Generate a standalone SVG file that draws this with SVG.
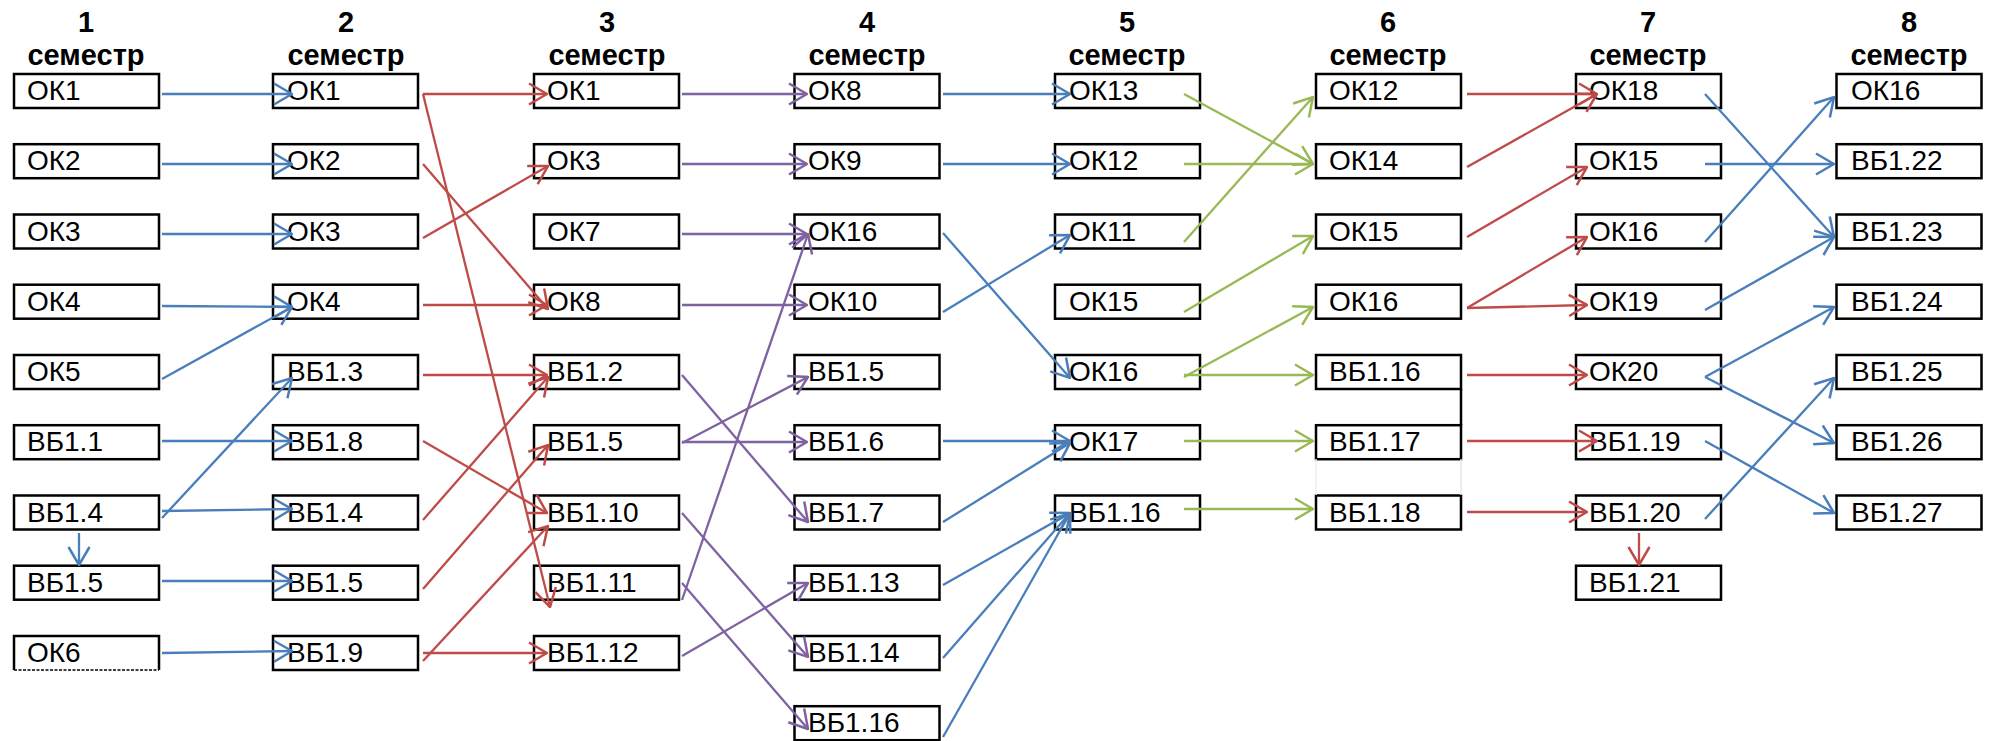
<svg xmlns="http://www.w3.org/2000/svg" width="2000" height="741" viewBox="0 0 2000 741">
<style>
.b{fill:#fff;stroke:#000;stroke-width:2.5}
.t{font-family:"Liberation Sans",Arial,sans-serif;font-size:28px;fill:#000}
.h{font-family:"Liberation Sans",Arial,sans-serif;font-size:29px;font-weight:bold;fill:#000;text-anchor:middle}
.c{fill:none;stroke-width:2.3}
.bl{stroke:#4A7EBB;marker-end:url(#mb)}
.rd{stroke:#BE4B48;marker-end:url(#mr)}
.pu{stroke:#7E62A1;marker-end:url(#mp)}
.gr{stroke:#98B954;marker-end:url(#mg)}
</style>
<defs>
<marker id="mb" viewBox="0 0 20 24" refX="19" refY="12" markerWidth="20" markerHeight="24" markerUnits="userSpaceOnUse" orient="auto"><path d="M1,1.5 L19,12 L1,22.5" fill="none" stroke="#4A7EBB" stroke-width="2.5"/></marker>
<marker id="mr" viewBox="0 0 20 24" refX="19" refY="12" markerWidth="20" markerHeight="24" markerUnits="userSpaceOnUse" orient="auto"><path d="M1,1.5 L19,12 L1,22.5" fill="none" stroke="#BE4B48" stroke-width="2.5"/></marker>
<marker id="mp" viewBox="0 0 20 24" refX="19" refY="12" markerWidth="20" markerHeight="24" markerUnits="userSpaceOnUse" orient="auto"><path d="M1,1.5 L19,12 L1,22.5" fill="none" stroke="#7E62A1" stroke-width="2.5"/></marker>
<marker id="mg" viewBox="0 0 20 24" refX="19" refY="12" markerWidth="20" markerHeight="24" markerUnits="userSpaceOnUse" orient="auto"><path d="M1,1.5 L19,12 L1,22.5" fill="none" stroke="#98B954" stroke-width="2.5"/></marker>
</defs>
<rect width="2000" height="741" fill="#fff"/>
<g id="headers">
<text class="h" x="86" y="32">1</text><text class="h" x="86" y="65">семестр</text>
<text class="h" x="346" y="32">2</text><text class="h" x="346" y="65">семестр</text>
<text class="h" x="607" y="32">3</text><text class="h" x="607" y="65">семестр</text>
<text class="h" x="867" y="32">4</text><text class="h" x="867" y="65">семестр</text>
<text class="h" x="1127" y="32">5</text><text class="h" x="1127" y="65">семестр</text>
<text class="h" x="1388" y="32">6</text><text class="h" x="1388" y="65">семестр</text>
<text class="h" x="1648" y="32">7</text><text class="h" x="1648" y="65">семестр</text>
<text class="h" x="1909" y="32">8</text><text class="h" x="1909" y="65">семестр</text>
</g>
<g id="col1">
<g id="c1r1"><rect class="b" x="14" y="74" width="145" height="34"/><text class="t" x="27" y="100">ОК1</text></g>
<g id="c1r2"><rect class="b" x="14" y="144.2" width="145" height="34"/><text class="t" x="27" y="170.2">ОК2</text></g>
<g id="c1r3"><rect class="b" x="14" y="214.5" width="145" height="34"/><text class="t" x="27" y="240.5">ОК3</text></g>
<g id="c1r4"><rect class="b" x="14" y="284.7" width="145" height="34"/><text class="t" x="27" y="310.7">ОК4</text></g>
<g id="c1r5"><rect class="b" x="14" y="355" width="145" height="34"/><text class="t" x="27" y="381">ОК5</text></g>
<g id="c1r6"><rect class="b" x="14" y="425.2" width="145" height="34"/><text class="t" x="27" y="451.2">ВБ1.1</text></g>
<g id="c1r7"><rect class="b" x="14" y="495.5" width="145" height="34"/><text class="t" x="27" y="521.5">ВБ1.4</text></g>
<g id="c1r8"><rect class="b" x="14" y="565.7" width="145" height="34"/><text class="t" x="27" y="591.7">ВБ1.5</text></g>
<g id="c1r9"><path d="M14,670 L14,636 L159,636 L159,670" fill="none" stroke="#000" stroke-width="2.5"/><line x1="14" y1="670" x2="159" y2="670" stroke="#000" stroke-width="1.5" stroke-dasharray="3,1.5"/><text class="t" x="27" y="662">ОК6</text></g>
</g>
<g id="col2">
<g id="c2r1"><rect class="b" x="273" y="74" width="145" height="34"/><text class="t" x="287" y="100">ОК1</text></g>
<g id="c2r2"><rect class="b" x="273" y="144.2" width="145" height="34"/><text class="t" x="287" y="170.2">ОК2</text></g>
<g id="c2r3"><rect class="b" x="273" y="214.5" width="145" height="34"/><text class="t" x="287" y="240.5">ОК3</text></g>
<g id="c2r4"><rect class="b" x="273" y="284.7" width="145" height="34"/><text class="t" x="287" y="310.7">ОК4</text></g>
<g id="c2r5"><rect class="b" x="273" y="355" width="145" height="34"/><text class="t" x="287" y="381">ВБ1.3</text></g>
<g id="c2r6"><rect class="b" x="273" y="425.2" width="145" height="34"/><text class="t" x="287" y="451.2">ВБ1.8</text></g>
<g id="c2r7"><rect class="b" x="273" y="495.5" width="145" height="34"/><text class="t" x="287" y="521.5">ВБ1.4</text></g>
<g id="c2r8"><rect class="b" x="273" y="565.7" width="145" height="34"/><text class="t" x="287" y="591.7">ВБ1.5</text></g>
<g id="c2r9"><rect class="b" x="273" y="636" width="145" height="34"/><text class="t" x="287" y="662">ВБ1.9</text></g>
</g>
<g id="col3">
<g id="c3r1"><rect class="b" x="534" y="74" width="145" height="34"/><text class="t" x="547" y="100">ОК1</text></g>
<g id="c3r2"><rect class="b" x="534" y="144.2" width="145" height="34"/><text class="t" x="547" y="170.2">ОК3</text></g>
<g id="c3r3"><rect class="b" x="534" y="214.5" width="145" height="34"/><text class="t" x="547" y="240.5">ОК7</text></g>
<g id="c3r4"><rect class="b" x="534" y="284.7" width="145" height="34"/><text class="t" x="547" y="310.7">ОК8</text></g>
<g id="c3r5"><rect class="b" x="534" y="355" width="145" height="34"/><text class="t" x="547" y="381">ВБ1.2</text></g>
<g id="c3r6"><rect class="b" x="534" y="425.2" width="145" height="34"/><text class="t" x="547" y="451.2">ВБ1.5</text></g>
<g id="c3r7"><rect class="b" x="534" y="495.5" width="145" height="34"/><text class="t" x="547" y="521.5">ВБ1.10</text></g>
<g id="c3r8"><rect class="b" x="534" y="565.7" width="145" height="34"/><text class="t" x="547" y="591.7">ВБ1.11</text></g>
<g id="c3r9"><rect class="b" x="534" y="636" width="145" height="34"/><text class="t" x="547" y="662">ВБ1.12</text></g>
</g>
<g id="col4">
<g id="c4r1"><rect class="b" x="794.5" y="74" width="145" height="34"/><text class="t" x="808" y="100">ОК8</text></g>
<g id="c4r2"><rect class="b" x="794.5" y="144.2" width="145" height="34"/><text class="t" x="808" y="170.2">ОК9</text></g>
<g id="c4r3"><rect class="b" x="794.5" y="214.5" width="145" height="34"/><text class="t" x="808" y="240.5">ОК16</text></g>
<g id="c4r4"><rect class="b" x="794.5" y="284.7" width="145" height="34"/><text class="t" x="808" y="310.7">ОК10</text></g>
<g id="c4r5"><rect class="b" x="794.5" y="355" width="145" height="34"/><text class="t" x="808" y="381">ВБ1.5</text></g>
<g id="c4r6"><rect class="b" x="794.5" y="425.2" width="145" height="34"/><text class="t" x="808" y="451.2">ВБ1.6</text></g>
<g id="c4r7"><rect class="b" x="794.5" y="495.5" width="145" height="34"/><text class="t" x="808" y="521.5">ВБ1.7</text></g>
<g id="c4r8"><rect class="b" x="794.5" y="565.7" width="145" height="34"/><text class="t" x="808" y="591.7">ВБ1.13</text></g>
<g id="c4r9"><rect class="b" x="794.5" y="636" width="145" height="34"/><text class="t" x="808" y="662">ВБ1.14</text></g>
<g id="c4r10"><rect class="b" x="794.5" y="706.2" width="145" height="34"/><text class="t" x="808" y="732.2">ВБ1.16</text></g>
</g>
<g id="col5">
<g id="c5r1"><rect class="b" x="1055" y="74" width="145" height="34"/><text class="t" x="1069" y="100">ОК13</text></g>
<g id="c5r2"><rect class="b" x="1055" y="144.2" width="145" height="34"/><text class="t" x="1069" y="170.2">ОК12</text></g>
<g id="c5r3"><rect class="b" x="1055" y="214.5" width="145" height="34"/><text class="t" x="1069" y="240.5">ОК11</text></g>
<g id="c5r4"><rect class="b" x="1055" y="284.7" width="145" height="34"/><text class="t" x="1069" y="310.7">ОК15</text></g>
<g id="c5r5"><rect class="b" x="1055" y="355" width="145" height="34"/><text class="t" x="1069" y="381">ОК16</text></g>
<g id="c5r6"><rect class="b" x="1055" y="425.2" width="145" height="34"/><text class="t" x="1069" y="451.2">ОК17</text></g>
<g id="c5r7"><rect class="b" x="1055" y="495.5" width="145" height="34"/><text class="t" x="1069" y="521.5">ВБ1.16</text></g>
</g>
<g id="col6">
<g id="c6r1"><rect class="b" x="1316" y="74" width="145" height="34"/><text class="t" x="1329" y="100">ОК12</text></g>
<g id="c6r2"><rect class="b" x="1316" y="144.2" width="145" height="34"/><text class="t" x="1329" y="170.2">ОК14</text></g>
<g id="c6r3"><rect class="b" x="1316" y="214.5" width="145" height="34"/><text class="t" x="1329" y="240.5">ОК15</text></g>
<g id="c6r4"><rect class="b" x="1316" y="284.7" width="145" height="34"/><text class="t" x="1329" y="310.7">ОК16</text></g>
<g id="c6r5"><rect class="b" x="1316" y="355" width="145" height="34"/><text class="t" x="1329" y="381">ВБ1.16</text></g>
<g id="c6r6"><rect class="b" x="1316" y="425.2" width="145" height="34"/><text class="t" x="1329" y="451.2">ВБ1.17</text></g>
<g id="c6r7"><rect class="b" x="1316" y="495.5" width="145" height="34"/><text class="t" x="1329" y="521.5">ВБ1.18</text></g>
<line x1="1461" y1="389" x2="1461" y2="425" stroke="#000" stroke-width="2.5"/>
<line x1="1461" y1="459" x2="1461" y2="495" stroke="#e6e6e6" stroke-width="1.5"/>
<line x1="1316" y1="459" x2="1316" y2="495" stroke="#ececec" stroke-width="1.5"/>
</g>
<g id="col7">
<g id="c7r1"><rect class="b" x="1576" y="74" width="145" height="34"/><text class="t" x="1589" y="100">ОК18</text></g>
<g id="c7r2"><rect class="b" x="1576" y="144.2" width="145" height="34"/><text class="t" x="1589" y="170.2">ОК15</text></g>
<g id="c7r3"><rect class="b" x="1576" y="214.5" width="145" height="34"/><text class="t" x="1589" y="240.5">ОК16</text></g>
<g id="c7r4"><rect class="b" x="1576" y="284.7" width="145" height="34"/><text class="t" x="1589" y="310.7">ОК19</text></g>
<g id="c7r5"><rect class="b" x="1576" y="355" width="145" height="34"/><text class="t" x="1589" y="381">ОК20</text></g>
<g id="c7r6"><rect class="b" x="1576" y="425.2" width="145" height="34"/><text class="t" x="1589" y="451.2">ВБ1.19</text></g>
<g id="c7r7"><rect class="b" x="1576" y="495.5" width="145" height="34"/><text class="t" x="1589" y="521.5">ВБ1.20</text></g>
<g id="c7r8"><rect class="b" x="1576" y="565.7" width="145" height="34"/><text class="t" x="1589" y="591.7">ВБ1.21</text></g>
</g>
<g id="col8">
<g id="c8r1"><rect class="b" x="1836.5" y="74" width="145" height="34"/><text class="t" x="1851" y="100">ОК16</text></g>
<g id="c8r2"><rect class="b" x="1836.5" y="144.2" width="145" height="34"/><text class="t" x="1851" y="170.2">ВБ1.22</text></g>
<g id="c8r3"><rect class="b" x="1836.5" y="214.5" width="145" height="34"/><text class="t" x="1851" y="240.5">ВБ1.23</text></g>
<g id="c8r4"><rect class="b" x="1836.5" y="284.7" width="145" height="34"/><text class="t" x="1851" y="310.7">ВБ1.24</text></g>
<g id="c8r5"><rect class="b" x="1836.5" y="355" width="145" height="34"/><text class="t" x="1851" y="381">ВБ1.25</text></g>
<g id="c8r6"><rect class="b" x="1836.5" y="425.2" width="145" height="34"/><text class="t" x="1851" y="451.2">ВБ1.26</text></g>
<g id="c8r7"><rect class="b" x="1836.5" y="495.5" width="145" height="34"/><text class="t" x="1851" y="521.5">ВБ1.27</text></g>
</g>
<g id="connectors" class="c">
<line class="c bl" x1="162" y1="94" x2="292" y2="94"/>
<line class="c bl" x1="162" y1="164" x2="292" y2="164"/>
<line class="c bl" x1="162" y1="234" x2="292" y2="234"/>
<line class="c bl" x1="162" y1="306" x2="292" y2="307"/>
<line class="c bl" x1="162" y1="379" x2="292" y2="307"/>
<line class="c bl" x1="162" y1="441" x2="292" y2="441"/>
<line class="c bl" x1="162" y1="518" x2="292" y2="378"/>
<line class="c bl" x1="162" y1="511" x2="292" y2="509"/>
<line class="c bl" x1="79" y1="533" x2="79" y2="565"/>
<line class="c bl" x1="162" y1="581" x2="292" y2="581"/>
<line class="c bl" x1="162" y1="653" x2="292" y2="651"/>

<line class="c rd" x1="423" y1="94" x2="547" y2="94"/>
<line class="c rd" x1="423" y1="94" x2="550" y2="607"/>
<line class="c rd" x1="423" y1="164" x2="548" y2="309"/>
<line class="c rd" x1="423" y1="238" x2="548" y2="166"/>
<line class="c rd" x1="423" y1="305" x2="547" y2="305"/>
<line class="c rd" x1="423" y1="375" x2="547" y2="375"/>
<line class="c rd" x1="423" y1="441" x2="547" y2="513"/>
<line class="c rd" x1="423" y1="520" x2="548" y2="377"/>
<line class="c rd" x1="423" y1="589" x2="548" y2="445"/>
<line class="c rd" x1="423" y1="661" x2="548" y2="526"/>
<line class="c rd" x1="423" y1="653" x2="547" y2="653"/>

<line class="c pu" x1="682" y1="94" x2="807" y2="94"/>
<line class="c pu" x1="682" y1="164" x2="807" y2="164"/>
<line class="c pu" x1="682" y1="234" x2="807" y2="234"/>
<line class="c pu" x1="682" y1="305" x2="807" y2="305"/>
<line class="c pu" x1="682" y1="600" x2="808" y2="234"/>
<line class="c pu" x1="682" y1="375" x2="808" y2="522"/>
<line class="c pu" x1="682" y1="443" x2="808" y2="377"/>
<line class="c pu" x1="682" y1="442" x2="807" y2="442"/>
<line class="c pu" x1="682" y1="513" x2="808" y2="657"/>
<line class="c pu" x1="682" y1="583" x2="808" y2="729"/>
<line class="c pu" x1="682" y1="656" x2="808" y2="583"/>

<line class="c bl" x1="943" y1="94" x2="1070" y2="94"/>
<line class="c bl" x1="943" y1="164" x2="1070" y2="164"/>
<line class="c bl" x1="943" y1="233" x2="1070" y2="378"/>
<line class="c bl" x1="943" y1="312" x2="1070" y2="235"/>
<line class="c bl" x1="943" y1="441" x2="1070" y2="441"/>
<line class="c bl" x1="943" y1="522" x2="1070" y2="443"/>
<line class="c bl" x1="943" y1="585" x2="1070" y2="513"/>
<line class="c bl" x1="943" y1="658" x2="1070" y2="513"/>
<line class="c bl" x1="943" y1="737" x2="1070" y2="513"/>

<line class="c gr" x1="1184" y1="94" x2="1313" y2="164"/>
<line class="c gr" x1="1184" y1="164" x2="1313" y2="164"/>
<line class="c gr" x1="1184" y1="242" x2="1313" y2="97"/>
<line class="c gr" x1="1184" y1="312" x2="1313" y2="236"/>
<line class="c gr" x1="1184" y1="377" x2="1313" y2="307"/>
<line class="c gr" x1="1184" y1="375" x2="1313" y2="375"/>
<line class="c gr" x1="1184" y1="441" x2="1313" y2="441"/>
<line class="c gr" x1="1184" y1="509" x2="1313" y2="509"/>

<line class="c rd" x1="1467" y1="94" x2="1597" y2="94"/>
<line class="c rd" x1="1467" y1="167" x2="1597" y2="94"/>
<line class="c rd" x1="1467" y1="237" x2="1587" y2="167"/>
<line class="c rd" x1="1467" y1="308" x2="1587" y2="237"/>
<line class="c rd" x1="1467" y1="308" x2="1587" y2="305"/>
<line class="c rd" x1="1467" y1="375" x2="1587" y2="375"/>
<line class="c rd" x1="1467" y1="441" x2="1597" y2="441"/>
<line class="c rd" x1="1467" y1="512" x2="1587" y2="512"/>
<line class="c rd" x1="1639" y1="533" x2="1639" y2="565"/>

<line class="c bl" x1="1705" y1="94" x2="1834" y2="237"/>
<line class="c bl" x1="1705" y1="164" x2="1834" y2="164"/>
<line class="c bl" x1="1705" y1="242" x2="1834" y2="97"/>
<line class="c bl" x1="1705" y1="310" x2="1834" y2="237"/>
<line class="c bl" x1="1705" y1="377" x2="1834" y2="307"/>
<line class="c bl" x1="1705" y1="377" x2="1834" y2="443"/>
<line class="c bl" x1="1705" y1="441" x2="1834" y2="513"/>
<line class="c bl" x1="1705" y1="519" x2="1834" y2="378"/>
</g>
</svg>
